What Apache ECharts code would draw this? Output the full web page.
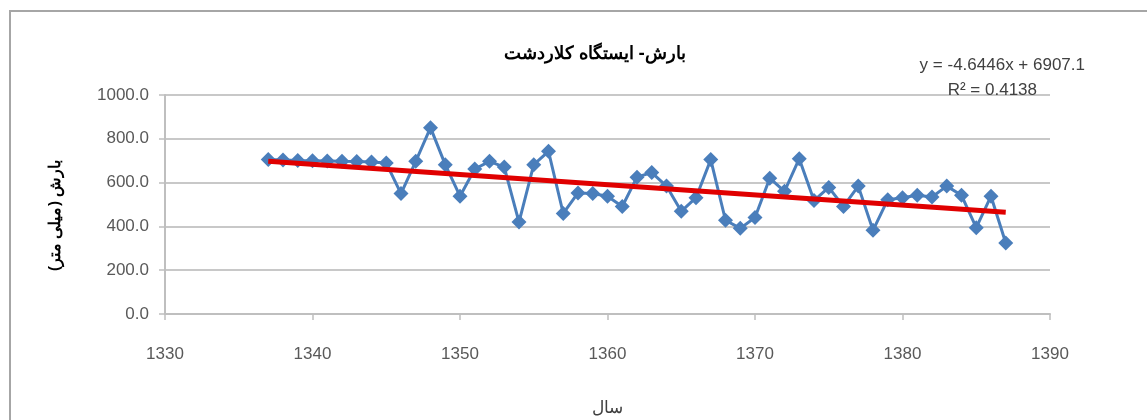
<!DOCTYPE html>
<html>
<head>
<meta charset="utf-8">
<script src="https://cdn.jsdelivr.net/npm/echarts@6/dist/echarts.min.js"></script>
<style>
  html, body { margin: 0; padding: 0; background: #fff; }
  #chart { width: 1147px; height: 420px; }
</style>
</head>
<body>
<div id="chart"></div>
<script>
// years and rainfall (mm)
const years = [1337, 1338, 1339, 1340, 1341, 1342, 1343, 1344, 1345, 1346,
  1347, 1348, 1349, 1350, 1351, 1352, 1353, 1354, 1355, 1356,
  1357, 1358, 1359, 1360, 1361, 1362, 1363, 1364, 1365, 1366,
  1367, 1368, 1369, 1370, 1371, 1372, 1373, 1374, 1375, 1376,
  1377, 1378, 1379, 1380, 1381, 1382, 1383, 1384, 1385, 1386, 1387]
const rain = [705, 703, 701, 700, 699, 697, 696, 694, 689, 550,
  697, 851, 682, 538, 662, 697, 671, 420, 682, 743,
  459, 553, 550, 538, 491, 625, 646, 584, 469, 531,
  705, 428, 391, 441, 620, 560, 709, 518, 578, 491,
  584, 382, 522, 531, 542, 534, 584, 542, 394, 538, 324]

// linear trend shown on the chart
const slope = -4.6446
const intercept = 6907.1
const trendText = ['y = -4.6446x + 6907.1', 'R² = 0.4138']

const chart = echarts.init(document.getElementById('chart'))

const rainData = years.map((y, i) => [y, rain[i]])
const trendData = [years[0], years[years.length - 1]].map(y => [y, slope * y + intercept])

const labelFont = { fontFamily: 'Liberation Sans', fontSize: 17, color: '#595959' }

chart.setOption({
  animation: false,
  backgroundColor: '#fff',
  title: {
    text: 'بارش- ایستگاه کلاردشت',
    left: 590,
    top: 40,
    textAlign: 'center',
    textStyle: { fontFamily: 'Noto Sans', fontWeight: 'bold', fontSize: 18, color: '#000' }
  },
  graphic: [
    {
      type: 'rect',
      shape: { x: 10, y: 11, width: 1160, height: 430 },
      style: { fill: 'none', stroke: '#a6a6a6', lineWidth: 2 },
      silent: true
    },
    {
      type: 'text',
      right: 62,
      top: 57,
      style: { text: trendText[0], fontFamily: 'Liberation Sans', fontSize: 17, fill: '#404040' }
    },
    {
      type: 'text',
      right: 110,
      top: 82,
      style: { text: trendText[1], fontFamily: 'Liberation Sans', fontSize: 17, fill: '#404040' },
      z: 100
    }
  ],
  grid: { left: 165, right: 97, top: 95, bottom: 106, outerBoundsMode: 'none' },
  xAxis: {
    type: 'value',
    min: 1330,
    max: 1390,
    interval: 10,
    name: 'سال',
    nameLocation: 'middle',
    nameGap: 86,
    nameTextStyle: { fontFamily: 'Noto Sans', fontSize: 17, color: '#404040' },
    axisLine: { show: true, lineStyle: { color: '#bfbfbf', width: 2 } },
    axisTick: { show: true, length: 6, lineStyle: { color: '#bfbfbf', width: 1.5 } },
    axisLabel: Object.assign({ margin: 32, formatter: v => String(v) }, labelFont),
    splitLine: { show: false }
  },
  yAxis: {
    type: 'value',
    min: 0,
    max: 1000,
    interval: 200,
    name: 'بارش (میلی متر)',
    nameLocation: 'middle',
    nameGap: 102,
    nameRotate: 90,
    nameTextStyle: { fontFamily: 'Noto Sans', fontWeight: 'bold', fontSize: 16, color: '#000', padding: [0, 22, 0, 0] },
    axisLine: { show: true, lineStyle: { color: '#bfbfbf', width: 2 } },
    axisTick: { show: true, length: 6, lineStyle: { color: '#bfbfbf', width: 1.5 } },
    axisLabel: Object.assign({ margin: 16, formatter: v => v.toFixed(1) }, labelFont),
    splitLine: { show: true, lineStyle: { color: '#c8c8c8', width: 2 } }
  },
  series: [
    {
      name: 'rain',
      type: 'line',
      data: rainData,
      symbol: 'diamond',
      symbolSize: 15,
      itemStyle: { color: '#4a7ebb' },
      lineStyle: { color: '#4a7ebb', width: 3 },
      z: 2
    },
    {
      name: 'trend',
      type: 'line',
      data: trendData,
      symbol: 'none',
      lineStyle: { color: '#e00000', width: 5 },
      z: 3
    }
  ]
})
</script>
</body>
</html>
